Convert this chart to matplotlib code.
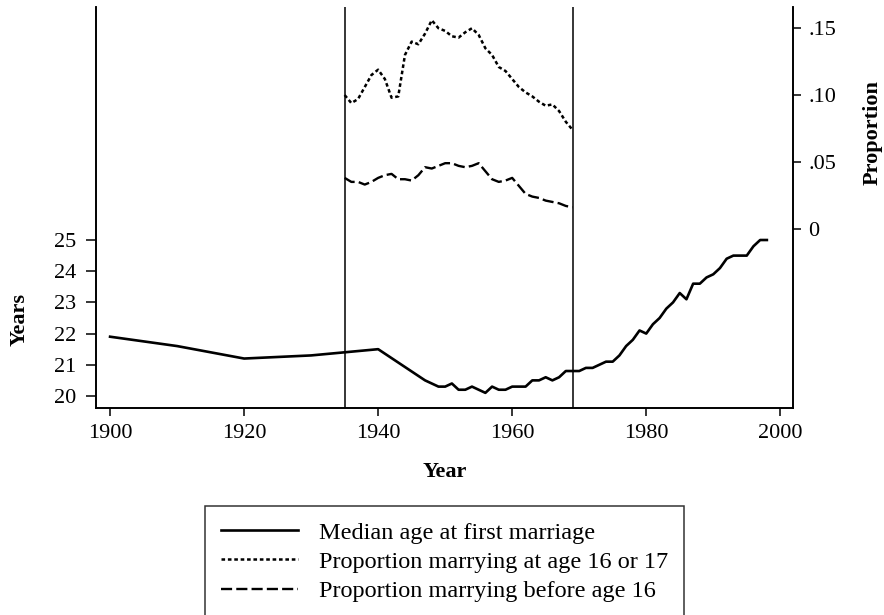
import matplotlib
matplotlib.use("Agg")
import matplotlib.pyplot as plt

plt.rcParams['font.family'] = ['Liberation Serif', 'DejaVu Serif']
plt.rcParams['lines.scale_dashes'] = False

# ---- data ----
median_years = [1900, 1910, 1920, 1930, 1940] + list(range(1947, 1999))
median_age = [21.9, 21.6, 21.2, 21.3, 21.5,
              20.5, 20.4, 20.3, 20.3, 20.4, 20.2, 20.2, 20.3, 20.2, 20.1,
              20.3, 20.2, 20.2, 20.3, 20.3, 20.3, 20.5, 20.5, 20.6, 20.5,
              20.6, 20.8, 20.8, 20.8, 20.9, 20.9, 21.0, 21.1, 21.1, 21.3,
              21.6, 21.8, 22.1, 22.0, 22.3, 22.5, 22.8, 23.0, 23.3, 23.1,
              23.6, 23.6, 23.8, 23.9, 24.1, 24.4, 24.5, 24.5, 24.5, 24.8,
              25.0, 25.0]

prop_years = list(range(1935, 1970))
prop_16_17 = [0.100, 0.094, 0.097, 0.106, 0.115, 0.119, 0.112, 0.098, 0.099, 0.130,
              0.140, 0.138, 0.146, 0.156, 0.150, 0.148, 0.144, 0.143, 0.147, 0.150,
              0.145, 0.135, 0.130, 0.121, 0.118, 0.112, 0.106, 0.102, 0.099, 0.095,
              0.092, 0.093, 0.088, 0.080, 0.074]
prop_under16 = [0.038, 0.035, 0.035, 0.033, 0.035, 0.038, 0.040, 0.041, 0.037, 0.037,
                0.036, 0.040, 0.046, 0.045, 0.047, 0.049, 0.049, 0.047, 0.046, 0.047,
                0.049, 0.043, 0.037, 0.035, 0.036, 0.038, 0.032, 0.026, 0.024, 0.023,
                0.021, 0.020, 0.019, 0.017, 0.016]

period_bounds = [1935, 1969]
x_ticks = [1900, 1920, 1940, 1960, 1980, 2000]
left_ticks = [20, 21, 22, 23, 24, 25]
right_ticks = [0, 0.05, 0.10, 0.15]
right_labels = ['0', '.05', '.10', '.15']

labels = ['Median age at first marriage',
          'Proportion marrying at age 16 or 17',
          'Proportion marrying before age 16']

# ---- figure ----
W, H = 884, 615
fig = plt.figure(figsize=(W / 100, H / 100), dpi=100)
L, R, T, B = 96, 793, 7, 407.7
ax = fig.add_axes([L / W, 1 - B / H, (R - L) / W, (B - T) / H])
ax2 = ax.twinx()

FS = 16
l1, = ax.plot(median_years, median_age, color='black', lw=1.9, solid_joinstyle='round')
l2, = ax2.plot(prop_years, prop_16_17, color='black', lw=1.8, dashes=(2.6, 2))
l3, = ax2.plot(prop_years, prop_under16, color='black', lw=1.7, dashes=(8, 3))
for xv in period_bounds:
    ax.axvline(xv, color='black', lw=1.1)

ax.set_xlim(1897.9, 2001.9)
ax.set_ylim(19.624, 32.47)
ax2.set_ylim(-0.134, 0.1659)

ax.set_xticks(x_ticks)
ax.set_yticks(left_ticks)
ax2.set_yticks(right_ticks)
ax2.set_yticklabels(right_labels)

for a in (ax, ax2):
    a.spines['top'].set_visible(False)
    for s in a.spines.values():
        s.set_linewidth(1.2)

ax.tick_params(axis='x', direction='out', length=5.5, width=1.1, pad=6, labelsize=FS)
ax.tick_params(axis='y', direction='out', length=7, width=1.1, pad=7, labelsize=FS)
ax2.tick_params(axis='y', direction='out', length=6, width=1.1, pad=5, labelsize=FS)

ax.set_xlabel('Year', fontsize=FS, fontweight='bold')
ax.xaxis.set_label_coords(0.5, (B - 471.7) / (B - T), transform=ax.transAxes)
ax.xaxis.label.set_va('center')

ax.set_ylabel('Years', fontsize=FS, fontweight='bold')
ax.yaxis.set_label_coords((20 - L) / (R - L), (B - 320) / (B - T))
ax.yaxis.label.set_va('center')

ax2.set_ylabel('Proportion', fontsize=FS, fontweight='bold', rotation=90)
ax2.yaxis.set_label_coords((873 - L) / (R - L), (B - 133) / (B - T))
ax2.yaxis.label.set_va('center')

LFS = 17.5
leg = fig.legend([l1, l2, l3], labels, loc='upper left',
                 bbox_to_anchor=(205 / W, 1 - 506 / H), borderaxespad=0,
                 fontsize=LFS, frameon=True, fancybox=False, edgecolor='black',
                 handlelength=3.17, handletextpad=0.9, labelspacing=0.30,
                 borderpad=0.64)
leg.get_frame().set_linewidth(1.1)

fig.savefig('out.png', dpi=100)
